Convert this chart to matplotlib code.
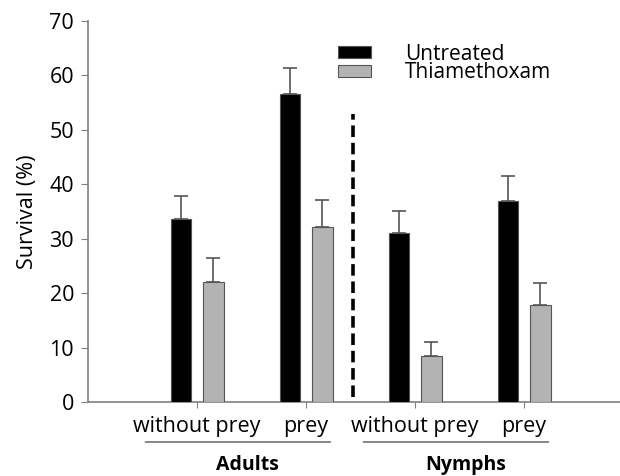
import numpy as np
import matplotlib.pyplot as plt

plt.rcParams['font.family'] = ['Open Sans', 'DejaVu Sans']

# data
categories = ['without prey', 'prey', 'without prey', 'prey']
groups = ['Adults', 'Nymphs']
untreated = [33.7, 56.5, 31.0, 37.0]
untreated_err = [4.2, 4.9, 4.0, 4.6]
thiamethoxam = [22.0, 32.1, 8.4, 17.9]
thiamethoxam_err = [4.5, 5.1, 2.6, 4.0]

x = np.arange(1, len(categories) + 1)
w = 0.19
off = 0.148

fig = plt.figure(figsize=(6.2, 4.76), dpi=100)
ax = fig.add_axes([0.142, 0.1555, 0.858, 0.8004])

edge = '#555555'
ekw = dict(ecolor='#555555', elinewidth=1.2, capsize=5, capthick=1.2)
ax.bar(x - off, untreated, w, color='black', edgecolor=edge, linewidth=0.8,
       yerr=[np.zeros(4), untreated_err], error_kw=ekw, label='Untreated', zorder=3)
ax.bar(x + off, thiamethoxam, w, color='#b3b3b3', edgecolor=edge, linewidth=0.8,
       yerr=[np.zeros(4), thiamethoxam_err], error_kw=ekw, label='Thiamethoxam', zorder=3)

# dashed separator between adults and nymphs
ax.plot([2.43, 2.43], [1, 53], color='black', linestyle=(0, (3.2, 1.6)), linewidth=2.6)

ax.set_xlim(0, 4.88)
ax.set_ylim(0, 70)
ax.set_yticks(range(0, 71, 10))
ax.set_xticks(x)
ax.set_xticklabels(categories, fontsize=15.5)
ax.tick_params(axis='y', labelsize=15.5, length=5, color='#808080', pad=5)
ax.tick_params(axis='x', length=4, color='#808080', pad=6, direction='out')
ax.set_ylabel('Survival (%)', fontsize=15.5, labelpad=8)

for s in ['top', 'right']:
    ax.spines[s].set_visible(False)
for s in ['left', 'bottom']:
    ax.spines[s].set_color('#808080')
    ax.spines[s].set_linewidth(1.2)

# group underlines and names
for i, g in enumerate(groups):
    a, b = x[2 * i], x[2 * i + 1]
    ax.annotate('', xy=(a - 0.5, -0.105), xytext=(b + 0.25, -0.105),
                xycoords=('data', 'axes fraction'),
                arrowprops=dict(arrowstyle='-', color='#555555', lw=1.0))
    ax.text((a + b) / 2 - 0.04, -0.166, g, transform=ax.get_xaxis_transform(),
            ha='center', va='center', fontsize=14, fontweight='bold')

leg = ax.legend(loc='upper left', bbox_to_anchor=(0.434, 0.99), frameon=False, fontsize=15,
                handlelength=1.6, handleheight=0.53, handletextpad=1.65, labelspacing=-0.12)

fig.savefig('out.png', dpi=100)
